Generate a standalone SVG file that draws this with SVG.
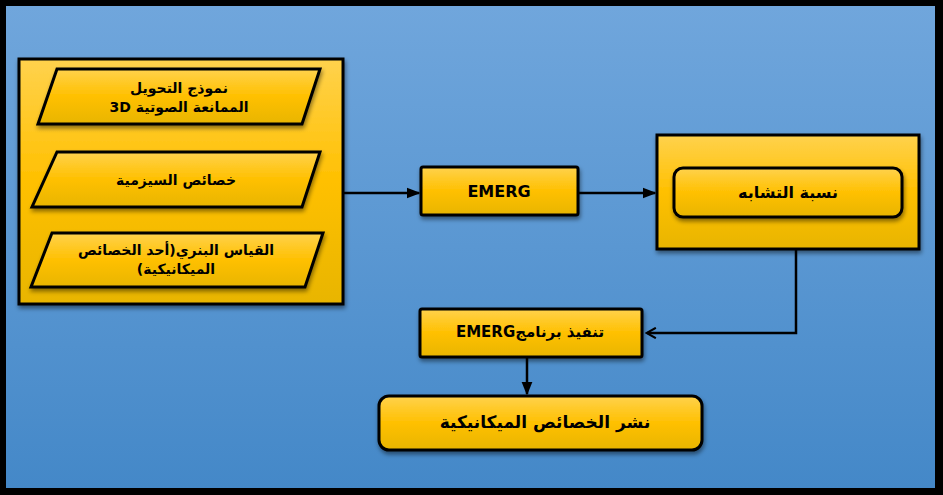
<svg xmlns="http://www.w3.org/2000/svg" width="943" height="495" viewBox="0 0 943 495">
<defs>
<linearGradient id="bg" x1="0" y1="0" x2="0" y2="1"><stop offset="0" stop-color="#70a6dc"/><stop offset="1" stop-color="#4488c8"/></linearGradient>
<linearGradient id="gold" x1="0" y1="0" x2="0" y2="1"><stop offset="0" stop-color="#ffd24d"/><stop offset="0.5" stop-color="#ffc000"/><stop offset="1" stop-color="#e8b500"/></linearGradient>
<filter id="sh" x="-10%" y="-10%" width="130%" height="140%"><feDropShadow dx="1" dy="3" stdDeviation="2" flood-color="#000" flood-opacity="0.45"/></filter>
<marker id="ah" viewBox="0 0 10 10" refX="9" refY="5" markerWidth="5.5" markerHeight="5.5" orient="auto" markerUnits="strokeWidth"><path d="M0,1 L10,5 L0,9 Z" fill="#000"/></marker>
<marker id="oh" viewBox="0 0 12 12" refX="10.5" refY="6" markerWidth="5" markerHeight="5" orient="auto" markerUnits="strokeWidth"><path d="M2,1 L11,6 L2,11" fill="none" stroke="#000" stroke-width="2"/></marker>
<style>
.box{fill:url(#gold);stroke:#000;stroke-width:3;filter:url(#sh)}
.t{font-family:"DejaVu Sans",sans-serif;font-weight:bold;fill:#000;text-anchor:middle}
.line{fill:none;stroke:#000;stroke-width:2.5}
</style>
</defs>
<rect x="0" y="0" width="943" height="495" fill="#000"/>
<rect x="6" y="6" width="929" height="482" fill="url(#bg)"/>
<g id="inputs">
<rect class="box" x="19" y="59" width="324" height="245"/>
</g>
<g id="node-impedance">
<polygon class="box" points="57,69 320,69 302,124 38,124"/>
<text class="t" font-size="14" direction="rtl" x="179" y="93">نموذج التحويل</text>
<text class="t" font-size="14" direction="rtl" x="179" y="112">الممانعة الصوتية 3D</text>
</g>
<g id="node-seismic">
<polygon class="box" points="57,152 320,152 302,207 32,207"/>
<text class="t" font-size="14" direction="rtl" x="176" y="185">خصائص السيزمية</text>
</g>
<g id="node-texture">
<polygon class="box" points="52,233 323,233 305,287 31,287"/>
<text class="t" font-size="14" direction="rtl" x="176" y="255">القياس البنري(أحد الخصائص</text>
<text class="t" font-size="14" direction="rtl" x="176" y="274">الميكانيكية)</text>
</g>
<g id="node-emerg">
<rect class="box" x="421" y="167" width="157" height="48" stroke-width="5" rx="2"/>
<text class="t" font-size="16" x="499" y="197">EMERG</text>
</g>
<g id="node-similarity">
<rect class="box" x="657" y="135" width="262" height="114"/>
<rect class="box" x="674" y="168" width="228" height="49" rx="9"/>
<text class="t" font-size="16" direction="rtl" x="788" y="198">نسبة التشابه</text>
</g>
<g id="node-execute">
<rect class="box" x="420" y="309" width="222" height="48" stroke-width="5" rx="2"/>
<text class="t" font-size="15" direction="rtl" x="530" y="337">تنفيذ برنامجEMERG</text>
</g>
<g id="node-distribution">
<rect class="box" x="379" y="396" width="323" height="54" rx="10"/>
<text class="t" font-size="17" direction="rtl" x="545" y="428">نشر الخصائص الميكانيكية</text>
</g>
<g id="connectors">
<line class="line" x1="343" y1="193" x2="419" y2="193" marker-end="url(#ah)"/>
<line class="line" x1="579" y1="193" x2="655" y2="193" marker-end="url(#ah)"/>
<polyline class="line" stroke-width="3" points="796,250 796,333 647,333" marker-end="url(#oh)"/>
<line class="line" stroke-width="3.5" x1="527" y1="358" x2="527" y2="394" marker-end="url(#ah)"/>
</g>
</svg>
